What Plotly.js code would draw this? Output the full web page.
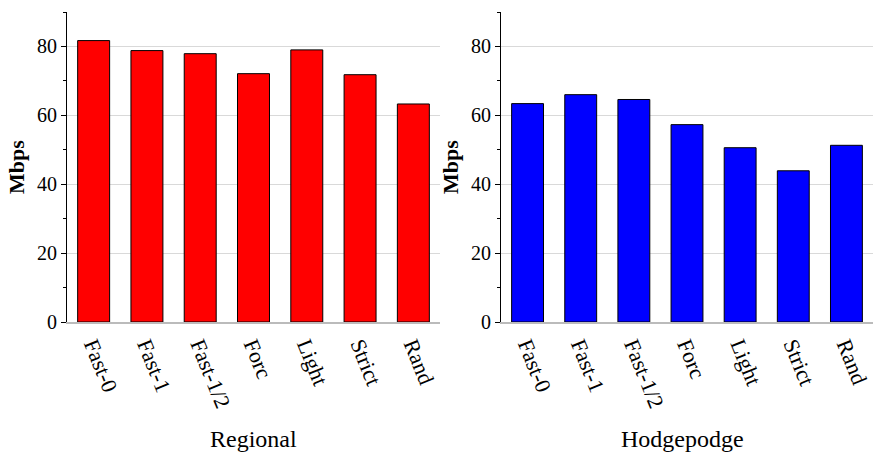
<!DOCTYPE html>
<html><head><meta charset="utf-8">
<script src="https://cdn.plot.ly/plotly-3.0.1.min.js"></script>
<style>html,body{margin:0;padding:0;background:#fff}</style>
</head><body>
<div id="chart" style="width:873px;height:452px"></div>
<script>
const categories = ["Fast-0","Fast-1","Fast-1/2","Forc","Light","Strict","Rand"];
const regional = [81.7, 78.8, 77.9, 72.1, 79.0, 71.8, 63.3];
const hodgepodge = [63.4, 66.0, 64.6, 57.3, 50.6, 43.9, 51.3];
const yTicks = [0, 20, 40, 60, 80];

const font = {family: "Liberation Serif, Times New Roman, serif", color: "#000"};

const traces = [
  {type: "bar", x: categories, y: regional, xaxis: "x", yaxis: "y",
   marker: {color: "#ff0000", line: {color: "#000", width: 1}}, width: 0.6},
  {type: "bar", x: categories, y: hodgepodge, xaxis: "x2", yaxis: "y2",
   marker: {color: "#0000ff", line: {color: "#000", width: 1}}, width: 0.6}
];

function xax(domain, anchor) {
  return {domain: domain, anchor: anchor, type: "category", range: [-0.5, 6.5],
    tickangle: 68, tickfont: Object.assign({size: 22}, font),
    showline: true, linecolor: "#bbbbbb", linewidth: 1.5, ticks: "", showgrid: false,
    zeroline: false, fixedrange: true};
}
function yax(anchor) {
  return {anchor: anchor, range: [0, 90], tickvals: yTicks, ticktext: yTicks.map(String),
    tickfont: Object.assign({size: 20}, font),
    ticks: "outside", ticklen: 5, tickcolor: "#000", tickwidth: 1,
    minor: {tickvals: [10, 30, 50, 70, 90], ticks: "outside", ticklen: 3, tickcolor: "#000", showgrid: false},
    showline: true, linecolor: "#000", linewidth: 1,
    showgrid: true, gridcolor: "#d9d9d9", gridwidth: 1, zeroline: false,
    title: {text: "<b>Mbps</b>", font: Object.assign({size: 22}, font), standoff: 6},
    fixedrange: true};
}

const layout = {
  width: 873, height: 452,
  margin: {l: 0, r: 0, t: 12, b: 130},
  paper_bgcolor: "#fff", plot_bgcolor: "#fff",
  showlegend: false, bargap: 0.4,
  font: font,
  xaxis: xax([67/873, 440/873], "y"),
  yaxis: yax("x"),
  xaxis2: xax([501/873, 1], "y2"),
  yaxis2: yax("x2"),
  annotations: [
    {text: "Regional", xref: "paper", yref: "paper", x: 253/873, y: -(439-322)/310, xanchor: "center", yanchor: "middle",
     showarrow: false, font: Object.assign({size: 24}, font)},
    {text: "Hodgepodge", xref: "paper", yref: "paper", x: 682/873, y: -(439-322)/310, xanchor: "center", yanchor: "middle",
     showarrow: false, font: Object.assign({size: 24}, font)}
  ]
};

Plotly.newPlot("chart", traces, layout, {displayModeBar: false, staticPlot: true});
</script>
</body></html>
